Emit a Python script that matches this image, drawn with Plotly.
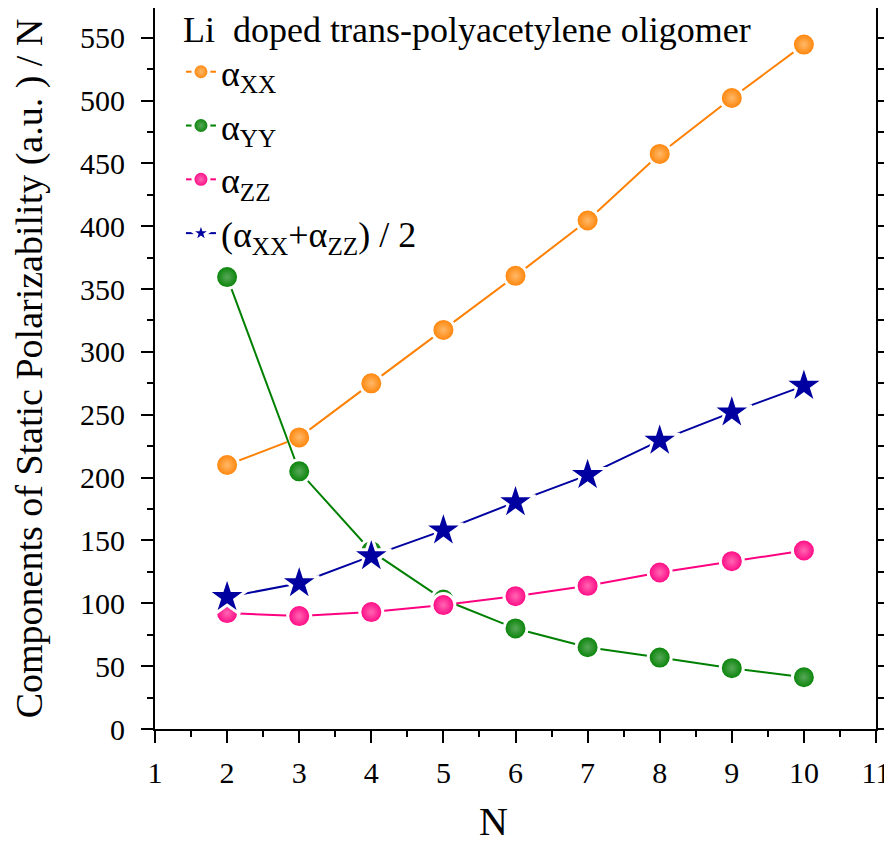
import plotly.graph_objects as go

N = [2, 3, 4, 5, 6, 7, 8, 9, 10]
alpha_xx = [210, 232, 275, 317.5, 360.5, 404.5, 457.5, 502, 544.5]
alpha_yy = [359.5, 205, 141.5, 103, 80, 65, 56.8, 48.4, 41.2]
alpha_zz = [92.2, 89.8, 93, 98.6, 105.7, 113.9, 124.5, 133.5, 142]
alpha_avg = [105, 116, 137.5, 158, 180.5, 202, 229.4, 251.9, 273]

FONT = "Liberation Serif"

series = [
    ("α<sub>XX</sub>", alpha_xx, "#FF8000", "#FFB868", "circle", 23),
    ("α<sub>YY</sub>", alpha_yy, "#008000", "#58A858", "circle", 23),
    ("α<sub>ZZ</sub>", alpha_zz, "#FF0080", "#FF66B3", "circle", 23),
    ("(α<sub>XX</sub>+α<sub>ZZ</sub>) / 2", alpha_avg, "#0000A0", None, "star", 30),
]

fig = go.Figure()
for i, (name, ys, col, light, sym, sz) in enumerate(series):
    marker = dict(symbol=sym, size=sz, color=col,
                  line=dict(color="white", width=3))
    if light:
        marker["gradient"] = dict(type="radial", color=light)
    fig.add_trace(go.Scatter(
        x=N, y=ys, name=name, mode="lines+markers",
        legendgroup=f"g{i}",
        line=dict(color=col, width=2),
        marker=marker,
    ))

axis_common = dict(
    showline=True, linecolor="black", linewidth=2, mirror="ticks",
    ticks="outside", ticklen=12, tickwidth=1.5, tickcolor="black",
    showgrid=False, zeroline=False,
    tickfont=dict(family=FONT, size=30, color="black"),
)

fig.update_xaxes(
    range=[1, 11], tick0=1, dtick=1,
    minor=dict(ticks="outside", ticklen=6, tickwidth=1.5, tickcolor="black", dtick=0.5),
    ticklabelstandoff=4,
    **axis_common,
)
fig.update_yaxes(
    range=[0, 573.6], tick0=0, dtick=50,
    minor=dict(ticks="outside", ticklen=6, tickwidth=1.5, tickcolor="black", dtick=25),
    title=dict(text="Components of Static Polarizability (a.u. ) / N",
               font=dict(family=FONT, size=38, color="black"), standoff=28),
    ticklabelstandoff=10,
    **axis_common,
)

fig.add_annotation(
    text="N", xref="paper", yref="paper", x=0.469, y=-0.128,
    xanchor="center", yanchor="middle", showarrow=False,
    font=dict(family=FONT, size=40, color="black"),
)

fig.update_layout(
    width=892, height=846,
    font=dict(family=FONT, size=30, color="black"),
    margin=dict(l=147, r=24, t=0, b=125, autoexpand=False),
    paper_bgcolor="white", plot_bgcolor="white",
    showlegend=True,
    legend=dict(
        title=dict(text="Li  doped trans-polyacetylene oligomer",
                   font=dict(family=FONT, size=36, color="black")),
        x=0.036, y=1.018, xanchor="left", yanchor="top",
        bgcolor="rgba(0,0,0,0)", borderwidth=0,
        font=dict(family=FONT, size=36, color="black"),
        itemsizing="trace", tracegroupgap=4,
    ),
)

fig.write_html("out.html")
